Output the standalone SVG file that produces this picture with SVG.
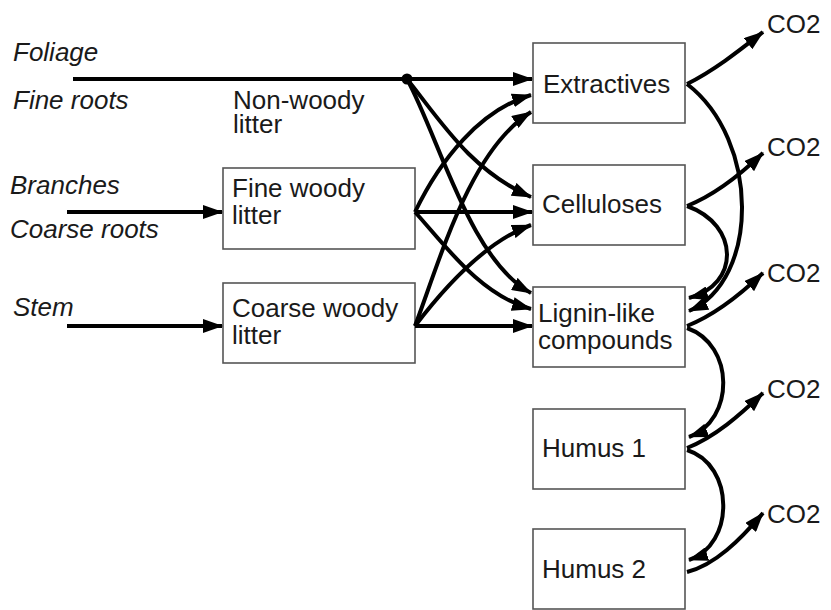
<svg xmlns="http://www.w3.org/2000/svg" width="831" height="610" viewBox="0 0 831 610">
<defs>
<marker id="ah" markerUnits="userSpaceOnUse" markerWidth="20" markerHeight="14" refX="19" refY="7" orient="auto">
<path d="M0,0 L20,7 L0,14 z" fill="#000"/>
</marker>
<style>
.box{fill:#fff;stroke:#555;stroke-width:1.6}
.t{font-family:"Liberation Sans",Arial,sans-serif;font-size:26px;fill:#1a1a1a}
.i{font-style:italic}
.c{fill:none;stroke:#000;stroke-width:4;marker-end:url(#ah)}
</style>
</defs>
<rect width="831" height="610" fill="#fff"/>
<g id="inputs">
<text class="t i" x="13" y="61">Foliage</text>
<text class="t i" x="13" y="109">Fine roots</text>
<text class="t" x="233" y="109">Non-woody<tspan x="233" y="133">litter</tspan></text>
<text class="t i" x="10" y="194">Branches</text>
<text class="t i" x="10" y="238">Coarse roots</text>
<text class="t i" x="13" y="316">Stem</text>
</g>
<g id="fine-woody"><rect class="box" x="223" y="168" width="192" height="81"/><text class="t" x="232" y="197">Fine woody<tspan x="232" y="224">litter</tspan></text></g>
<g id="coarse-woody"><rect class="box" x="223" y="283" width="192" height="80"/><text class="t" x="232" y="317">Coarse woody<tspan x="232" y="344">litter</tspan></text></g>
<g id="extractives"><rect class="box" x="533" y="43" width="152" height="80"/><text class="t" x="543" y="93">Extractives</text></g>
<g id="celluloses"><rect class="box" x="533" y="165" width="152" height="80"/><text class="t" x="542" y="213">Celluloses</text></g>
<g id="lignin"><rect class="box" x="533" y="287" width="152" height="80"/><text class="t" x="538" y="322">Lignin-like<tspan x="538" y="349">compounds</tspan></text></g>
<g id="humus1"><rect class="box" x="533" y="409" width="152" height="80"/><text class="t" x="542" y="457">Humus 1</text></g>
<g id="humus2"><rect class="box" x="533" y="529" width="152" height="80"/><text class="t" x="542" y="578">Humus 2</text></g>
<g id="co2">
<text class="t" x="767" y="33">CO2</text>
<text class="t" x="767" y="156">CO2</text>
<text class="t" x="767" y="282">CO2</text>
<text class="t" x="767" y="398">CO2</text>
<text class="t" x="767" y="523">CO2</text>
</g>
<g id="connectors">
<path class="c" d="M73,79 L532,79"/>
<circle cx="407" cy="79" r="5.5" fill="#000"/>
<path class="c" d="M67,212 L222,212"/>
<path class="c" d="M67,326 L222,326"/>
<path class="c" d="M407,79 C440,120 470,170 531,197"/>
<path class="c" d="M407,79 C440,140 470,260 531,293"/>
<path class="c" d="M415,212 C440,160 480,110 531,95"/>
<path class="c" d="M415,326 C440,260 470,150 531,112"/>
<path class="c" d="M415,212 L532,212"/>
<path class="c" d="M415,326 C450,280 490,240 531,225"/>
<path class="c" d="M415,212 C445,245 480,295 531,309"/>
<path class="c" d="M415,326 L532,326"/>
<path class="c" d="M687,84 C715,70 740,50 763,32"/>
<path class="c" d="M687,84 C760,140 760,280 689,311"/>
<path class="c" d="M687,206 C715,195 740,175 763,153"/>
<path class="c" d="M687,206 C740,225 740,285 689,298"/>
<path class="c" d="M687,326 C715,315 740,295 763,273"/>
<path class="c" d="M687,328 C735,345 735,420 689,437"/>
<path class="c" d="M687,448 C715,437 740,415 763,393"/>
<path class="c" d="M687,450 C735,465 735,545 689,560"/>
<path class="c" d="M687,572 C715,565 740,540 763,513"/>
</g>
</svg>
